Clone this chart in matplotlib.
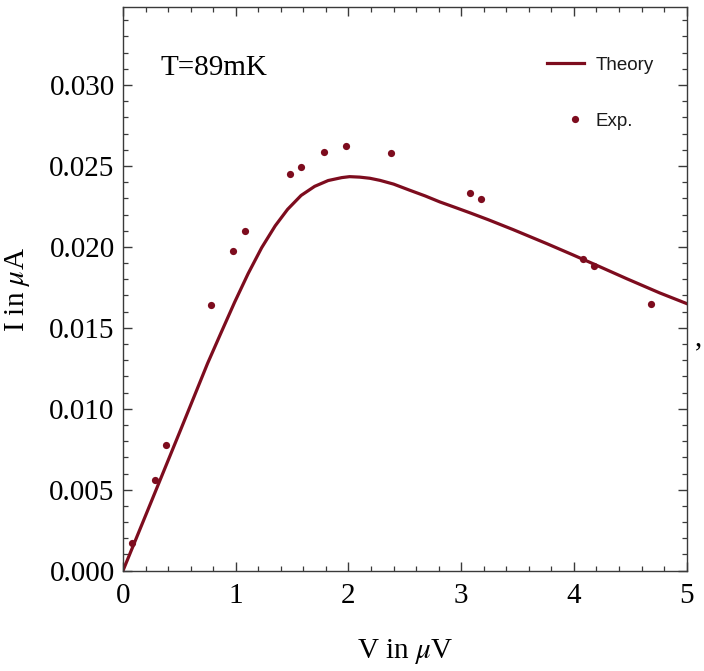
import matplotlib
matplotlib.use("Agg")
import matplotlib.pyplot as plt
from matplotlib.ticker import MultipleLocator, FormatStrFormatter
from matplotlib.legend_handler import HandlerLine2D

# theory curve I(V)
v_theory = [0.0, 0.25, 0.51, 0.75, 0.87, 0.99, 1.11, 1.23, 1.35, 1.46, 1.58, 1.70,
            1.82, 1.94, 2.01, 2.10, 2.19, 2.28, 2.40, 2.54, 2.68, 2.81, 2.95, 3.08,
            3.24, 3.46, 3.76, 3.99, 4.17, 4.47, 4.76, 5.00]
i_theory = [0.0, 0.00425, 0.00868, 0.01280, 0.01470, 0.01658, 0.01835, 0.01995,
            0.02130, 0.02232, 0.02318, 0.02374, 0.02410, 0.02428, 0.02434, 0.02431,
            0.02424, 0.02411, 0.02388, 0.02351, 0.02315, 0.02278, 0.02243, 0.02210,
            0.02168, 0.02107, 0.02020, 0.01951, 0.01896, 0.01803, 0.01716, 0.01650]

# measured points
v_exp = [0.08, 0.28, 0.38, 0.78, 0.98, 1.08, 1.48, 1.58, 1.78, 1.98, 2.38,
         3.08, 3.18, 4.08, 4.18, 4.68]
i_exp = [0.00173, 0.00558, 0.00776, 0.0164, 0.01975, 0.02097, 0.02453, 0.02492,
         0.02586, 0.02622, 0.0258, 0.02333, 0.02296, 0.01924, 0.01879, 0.0165]

temp_label = "T=89mK"
color = "#7d0c1e"
frame_color = "#3a3a3a"

plt.rcParams["font.family"] = ["Liberation Serif", "DejaVu Serif"]
plt.rcParams["mathtext.fontset"] = "stix"


class DotHandler(HandlerLine2D):
    # puts the legend dot a bit right of the handle centre
    def create_artists(self, legend, orig_handle, xdescent, ydescent, width,
                       height, fontsize, trans):
        arts = super().create_artists(legend, orig_handle, xdescent, ydescent,
                                      width, height, fontsize, trans)
        for a in arts:
            if a.get_marker() not in (None, "None", ""):
                a.set_xdata([x + 0.26 * width for x in a.get_xdata()])
        return arts


def main():
    fig = plt.figure(figsize=(7.04, 6.71), dpi=100)
    ax = fig.add_axes([0.1747, 0.1495, 0.8007, 0.8396])

    ax.plot(v_theory, i_theory, color=color, lw=2.3, label="Theory",
            solid_joinstyle="round")
    exp_line, = ax.plot(v_exp, i_exp, "o", color=color, ms=5.2, mec="none",
                        label="Exp.")

    ax.set_xlim(0, 5)
    ax.set_ylim(0, 0.0348)
    ax.xaxis.set_major_locator(MultipleLocator(1))
    ax.xaxis.set_minor_locator(MultipleLocator(0.2))
    ax.yaxis.set_major_locator(MultipleLocator(0.005))
    ax.yaxis.set_minor_locator(MultipleLocator(0.001))
    ax.yaxis.set_major_formatter(FormatStrFormatter("%.3f"))

    ax.tick_params(which="both", direction="in", top=True, right=True,
                   color=frame_color, labelsize=21)
    ax.tick_params(which="major", length=6.5, width=1.0, pad=6)
    ax.tick_params(which="minor", length=3.8, width=0.9)
    ax.tick_params(axis="x", which="major", pad=9)
    for s in ax.spines.values():
        s.set_color(frame_color)
        s.set_linewidth(1.0)

    ax.set_xlabel(r"V in $\mu$V", fontsize=21, labelpad=20)
    ax.set_ylabel(r"I in $\mu$A", fontsize=21, labelpad=12)

    ax.text(0.066, 0.880, temp_label, transform=ax.transAxes, fontsize=21,
            ha="left", va="baseline")

    leg = ax.legend(loc="upper left", bbox_to_anchor=(0.752, 0.912),
                    frameon=False, handlelength=2.0, handletextpad=0.6,
                    labelspacing=2.05, borderpad=0, borderaxespad=0,
                    handler_map={exp_line: DotHandler()},
                    prop={"family": "Liberation Sans", "size": 13.5})
    for t in leg.get_texts():
        t.set_color("#1a1a1a")

    fig.text(0.992, 0.496, ",", fontsize=21, ha="center", va="center")

    fig.savefig("out.png", dpi=100)


if __name__ == "__main__":
    main()
